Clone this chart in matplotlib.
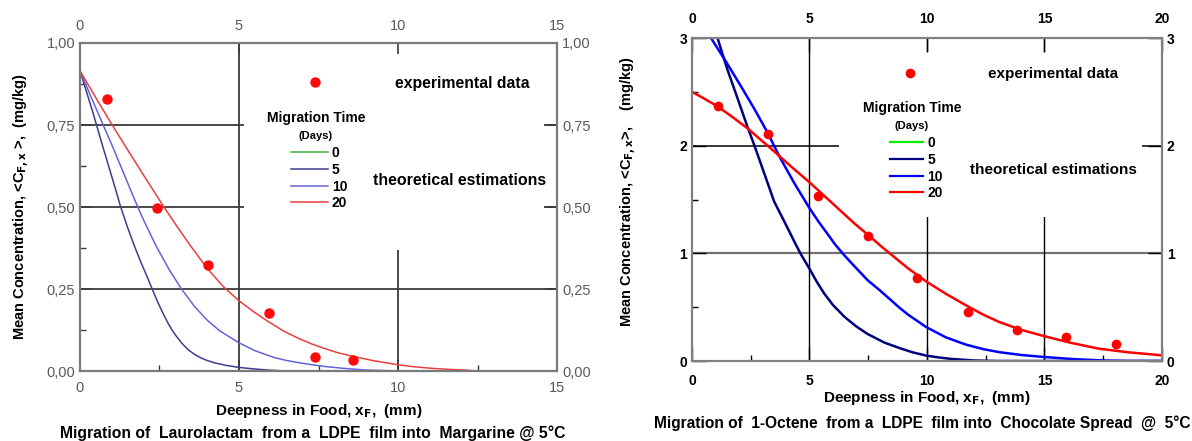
import matplotlib
matplotlib.use("Agg")
import matplotlib.pyplot as plt
from matplotlib.patches import Rectangle
from matplotlib.lines import Line2D

plt.rcParams['font.family'] = ['Liberation Sans', 'DejaVu Sans']

# ---------------- data: left panel (Laurolactam -> Margarine) ----------------
L_xticks = [0, 5, 10, 15]
L_yticks = [0.0, 0.25, 0.50, 0.75, 1.00]
L_yticklabels = ["0,00", "0,25", "0,50", "0,75", "1,00"]

L_x0 = [0, 15]
L_y0 = [0, 0]
L_x5 = [0, 0.2, 0.4, 0.52, 0.7, 0.9, 1.1, 1.28, 1.5, 1.7, 1.9, 2.1, 2.27, 2.45, 2.6,
        2.75, 2.87, 3.0, 3.2, 3.4, 3.6, 3.8, 4.0, 4.23, 4.6, 5.0, 5.4, 5.9, 6.5, 15]
L_y5 = [0.915, 0.853, 0.79, 0.75, 0.69, 0.625, 0.56, 0.50, 0.437, 0.384, 0.335, 0.290,
        0.25, 0.209, 0.178, 0.149, 0.129, 0.110, 0.085, 0.065, 0.051, 0.040, 0.032,
        0.025, 0.017, 0.011, 0.007, 0.003, 0, 0]
L_x10 = [0, 0.35, 0.73, 1.0, 1.3, 1.72, 2.0, 2.4, 2.8, 3.19, 3.6, 4.0, 4.4, 5.0, 5.5,
         6.11, 6.5, 6.9, 7.3, 7.68, 8.3, 9.0, 9.7, 10.5, 15]
L_y10 = [0.915, 0.835, 0.75, 0.69, 0.62, 0.522, 0.46, 0.38, 0.31, 0.25, 0.197, 0.155,
         0.122, 0.086, 0.062, 0.041, 0.032, 0.025, 0.019, 0.014, 0.008, 0.003, 0.001, 0, 0]
L_x20 = [0, 0.5, 1.0, 1.5, 2.0, 2.62, 3.0, 3.45, 4.0, 4.5, 5.0, 5.5, 5.9, 6.4, 6.9, 7.3,
         7.68, 8.1, 8.57, 9.2, 10.0, 10.5, 11.08, 11.6, 12.1, 12.5, 15]
L_y20 = [0.915, 0.833, 0.752, 0.674, 0.597, 0.503, 0.448, 0.385, 0.313, 0.258, 0.214,
         0.178, 0.152, 0.122, 0.098, 0.082, 0.069, 0.056, 0.045, 0.032, 0.019, 0.013,
         0.008, 0.005, 0.003, 0, 0]
L_exp_x = [0.86, 2.42, 4.04, 5.95, 7.40, 8.60]
L_exp_y = [0.829, 0.497, 0.324, 0.177, 0.044, 0.033]

# ---------------- data: right panel (1-Octene -> Chocolate Spread) ----------------
R_xticks = [0, 5, 10, 15, 20]
R_yticks = [0, 1, 2, 3]
R_yticklabels = ["0", "1", "2", "3"]

R_x0 = [0, 20]
R_y0 = [0, 0]
R_x5 = [1.09, 1.3, 1.52, 1.94, 2.37, 2.66, 3.08, 3.5, 3.85, 4.15, 4.4, 4.64, 5.02, 5.3,
        5.63, 6.0, 6.49, 7.0, 7.48, 8.2, 8.9, 9.4, 9.97, 10.5, 11.0, 12.0, 13.0, 20]
R_y5 = [3.0, 2.85, 2.70, 2.44, 2.17, 2.0, 1.74, 1.48, 1.33, 1.20, 1.09, 0.99, 0.85, 0.74,
        0.626, 0.52, 0.41, 0.32, 0.25, 0.17, 0.115, 0.08, 0.05, 0.033, 0.02, 0.005, 0, 0]
R_x10 = [0.81, 1.45, 2.09, 2.66, 3.22, 3.72, 4.36, 5.0, 5.4, 5.77, 6.1, 6.49, 7.0, 7.48,
         8.0, 8.47, 8.83, 9.2, 9.97, 10.8, 11.66, 12.4, 13.08, 14.0, 15.0, 16.2, 17.5,
         18.5, 20]
R_y10 = [3.0, 2.78, 2.55, 2.34, 2.12, 1.90, 1.65, 1.42, 1.29, 1.18, 1.08, 0.98, 0.86,
         0.75, 0.655, 0.565, 0.495, 0.43, 0.315, 0.22, 0.152, 0.11, 0.082, 0.056, 0.037,
         0.018, 0.005, 0, 0]
R_x20 = [0, 0.5, 1.09, 1.7, 2.37, 2.9, 3.43, 4.2, 5.0, 5.6, 6.3, 6.9, 7.5, 8.0, 8.47,
         9.2, 10.0, 10.8, 11.66, 12.4, 13.08, 14.0, 15.0, 16.1, 17.3, 18.6, 20]
R_y20 = [2.5, 2.44, 2.365, 2.27, 2.16, 2.06, 1.96, 1.81, 1.66, 1.54, 1.40, 1.28, 1.17,
         1.075, 0.99, 0.86, 0.734, 0.625, 0.517, 0.43, 0.362, 0.29, 0.23, 0.17, 0.115,
         0.08, 0.053]
R_exp_x = [1.11, 3.23, 5.37, 7.47, 9.57, 11.74, 13.82, 15.93, 18.05]
R_exp_y = [2.365, 2.105, 1.53, 1.158, 0.774, 0.458, 0.285, 0.22, 0.161]

days = ["0", "5", "10", "20"]

fig = plt.figure(figsize=(11.92, 4.41), dpi=100)

# ================= LEFT =================
axL = fig.add_axes([0.0671, 0.1587, 0.4002, 0.7438])
axL.set_xlim(0, 15)
axL.set_ylim(0, 1.0)
gcol = '#3a3a3a'
for yv in L_yticks[1:-1]:
    axL.axhline(yv, color=gcol, lw=1.3, zorder=1)
for xv in L_xticks[1:-1]:
    axL.axvline(xv, color=gcol, lw=1.3, zorder=1)
axL.add_patch(Rectangle((5.15, 0.37), 14.6 - 5.15, 0.63, facecolor='white',
                        edgecolor='none', zorder=1.1))
cL = ['#3db53d', '#3d3d8f', '#6464d6', '#e84040']
axL.plot(L_x0, L_y0, color=cL[0], lw=1.1, zorder=2)
axL.plot(L_x5, L_y5, color=cL[1], lw=1.1, zorder=2)
axL.plot(L_x10, L_y10, color=cL[2], lw=1.1, zorder=2)
axL.plot(L_x20, L_y20, color=cL[3], lw=1.1, zorder=2)
axL.plot(L_exp_x, L_exp_y, 'o', color='#ff0a0a', ms=7.5, mec='none', zorder=3)

axL.set_xticks(L_xticks)
axL.set_xticks([2.5, 7.5, 12.5], minor=True)
axL.set_yticks(L_yticks)
axL.set_yticklabels(L_yticklabels)
axL.set_yticks([0.125, 0.375, 0.625, 0.875], minor=True)
axL.tick_params(which='major', direction='in', length=8, width=1.2, color=gcol,
                top=True, right=True, labeltop=True, labelright=True,
                labelsize=10.5, labelcolor='#5a5a5a')
axL.xaxis.set_tick_params(which='major', pad=7)
axL.tick_params(which='minor', direction='in', length=4, width=1, color=gcol,
                top=False, right=False)
for sp in axL.spines.values():
    sp.set_color('#7a7a7a')
    sp.set_linewidth(1.6)

axL.set_xlabel("Deepness in Food, x$_{\\mathbf{F}}$,  (mm)", fontsize=11, fontweight='bold')
axL.xaxis.set_label_coords(0.5, -0.093)
axL.set_ylabel("Mean Concentration, <C$_{\\mathbf{F,x}}$ >,  (mg/kg)", fontsize=10.5,
               fontweight='bold')
axL.yaxis.set_label_coords(-0.1, 0.5)

hL = [Line2D([], [], color=c, lw=1.1) for c in cL]
legL = axL.legend(hL, days, loc='upper left', bbox_to_anchor=(0.442, 0.686),
                  frameon=False, borderpad=0, borderaxespad=0, handlelength=2.65,
                  handletextpad=0.3, labelspacing=0.2,
                  prop={'weight': 'bold', 'size': 10})
axL.add_artist(legL)
mL = Line2D([], [], ls='none', marker='o', color='#ff0a0a', ms=7.5, mec='none')
axL.legend([mL], ["experimental data"], loc='center left',
           bbox_to_anchor=(0.477, 0.878), frameon=False, borderpad=0,
           borderaxespad=0, handlelength=1.0, handletextpad=4.6, numpoints=1,
           prop={'weight': 'bold', 'size': 11.3})
axL.text(0.4948, 0.7713, "Migration Time", transform=axL.transAxes, ha='center',
         va='center', fontsize=10, fontweight='bold')
axL.text(0.4948, 0.7165, "(Days)", transform=axL.transAxes, ha='center',
         va='center', fontsize=8, fontweight='bold')
axL.text(0.7966, 0.5823, "theoretical estimations", transform=axL.transAxes,
         ha='center', va='center', fontsize=11.4, fontweight='bold')

fig.text(0.2626, 0.018, "Migration of  Laurolactam  from a  LDPE  film into  Margarine @ 5°C",
         ha='center', va='center', fontsize=11.3, fontweight='bold')

# ================= RIGHT =================
axR = fig.add_axes([0.5805, 0.1814, 0.3943, 0.7324])
axR.set_xlim(0, 20)
axR.set_ylim(0, 3)
axR.axhline(1, color='#707070', lw=1.6, zorder=1)
axR.axhline(2, color='black', lw=1.1, zorder=1)
for xv in R_xticks[1:-1]:
    axR.axvline(xv, color='black', lw=1.0, zorder=1)
axR.add_patch(Rectangle((6.27, 1.34), 19.15 - 6.27, 2.87 - 1.34, facecolor='white',
                        edgecolor='none', zorder=1.1))
cR = ['#00ee00', '#000080', '#0000ff', '#ff0000']
axR.plot(R_x0, R_y0, color=cR[0], lw=1.8, zorder=2)
axR.plot(R_x5, R_y5, color=cR[1], lw=1.8, zorder=2)
axR.plot(R_x10, R_y10, color=cR[2], lw=1.8, zorder=2)
axR.plot(R_x20, R_y20, color=cR[3], lw=1.8, zorder=2)
axR.plot(R_exp_x, R_exp_y, 'o', color='#ff0000', ms=7, mec='none', zorder=3)

axR.set_xticks(R_xticks)
axR.set_xticks([2.5, 7.5, 12.5, 17.5], minor=True)
axR.set_yticks(R_yticks)
axR.set_yticklabels(R_yticklabels)
axR.set_yticks([0.5, 1.5, 2.5], minor=True)
axR.tick_params(which='major', direction='in', length=10, width=1.0, color='black',
                top=True, right=True, labeltop=True, labelright=True,
                labelsize=10, labelcolor='black')
axR.tick_params(which='minor', direction='in', length=4, width=1, color='black',
                top=False, right=False)
for lab in axR.get_xticklabels() + axR.get_yticklabels():
    lab.set_fontweight('bold')
axR.xaxis.set_tick_params(which='major', pad=9)
for sp in axR.spines.values():
    sp.set_color('#808080')
    sp.set_linewidth(1.6)

axR.set_xlabel("Deepness in Food, x$_{\\mathbf{F}}$,  (mm)", fontsize=11, fontweight='bold')
axR.xaxis.set_label_coords(0.5, -0.088)
axR.set_ylabel("Mean Concentration, <C$_{\\mathbf{F,x}}$>,    (mg/kg)", fontsize=10.5,
               fontweight='bold')
axR.yaxis.set_label_coords(-0.113, 0.523)

hR = [Line2D([], [], color=c, lw=1.6) for c in cR]
legR = axR.legend(hR, days, loc='upper left', bbox_to_anchor=(0.421, 0.6966),
                  frameon=False, borderpad=0, borderaxespad=0, handlelength=2.4,
                  handletextpad=0.3, labelspacing=0.2,
                  prop={'weight': 'bold', 'size': 10})
axR.add_artist(legR)
mR = Line2D([], [], ls='none', marker='o', color='#ff0000', ms=7, mec='none')
axR.legend([mR], ["experimental data"], loc='center left',
           bbox_to_anchor=(0.4475, 0.8885), frameon=False, borderpad=0,
           borderaxespad=0, handlelength=1.0, handletextpad=4.6, numpoints=1,
           prop={'weight': 'bold', 'size': 11})
axR.text(0.468, 0.783, "Migration Time", transform=axR.transAxes, ha='center',
         va='center', fontsize=10, fontweight='bold')
axR.text(0.468, 0.7276, "(Days)", transform=axR.transAxes, ha='center',
         va='center', fontsize=8, fontweight='bold')
axR.text(0.7696, 0.591, "theoretical estimations", transform=axR.transAxes,
         ha='center', va='center', fontsize=11, fontweight='bold')

fig.text(0.7735, 0.0408, "Migration of  1-Octene  from a  LDPE  film into  Chocolate Spread  @  5°C",
         ha='center', va='center', fontsize=11.2, fontweight='bold')

fig.savefig("out.png", dpi=100)
